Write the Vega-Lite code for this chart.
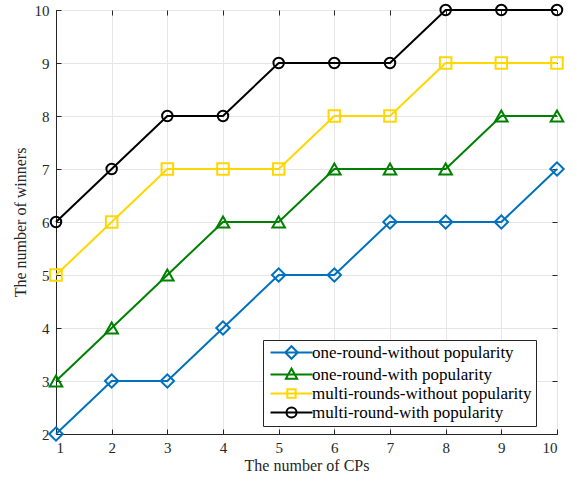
{
  "$schema": "https://vega.github.io/schema/vega-lite/v6.json",
  "width": 501,
  "height": 424,
  "autosize": {"type": "none"},
  "padding": {"left": 56, "top": 10, "right": 20, "bottom": 49},
  "background": "white",
  "config": {
    "view": {"stroke": "#262626", "strokeWidth": 1},
    "font": "Liberation Serif",
    "axis": {
      "labelFont": "Liberation Serif",
      "titleFont": "Liberation Serif",
      "labelFontSize": 15,
      "titleFontSize": 16,
      "labelColor": "#262626",
      "titleColor": "#262626",
      "titleFontWeight": "normal",
      "domainColor": "#262626",
      "tickColor": "#262626",
      "gridColor": "#e6e6e6",
      "gridOpacity": 1
    }
  },
  "data": {
    "values": [
      {"x": 1, "y": 2, "s": "one-round-without popularity"},
      {"x": 2, "y": 3, "s": "one-round-without popularity"},
      {"x": 3, "y": 3, "s": "one-round-without popularity"},
      {"x": 4, "y": 4, "s": "one-round-without popularity"},
      {"x": 5, "y": 5, "s": "one-round-without popularity"},
      {"x": 6, "y": 5, "s": "one-round-without popularity"},
      {"x": 7, "y": 6, "s": "one-round-without popularity"},
      {"x": 8, "y": 6, "s": "one-round-without popularity"},
      {"x": 9, "y": 6, "s": "one-round-without popularity"},
      {"x": 10, "y": 7, "s": "one-round-without popularity"},
      {"x": 1, "y": 3, "s": "one-round-with popularity"},
      {"x": 2, "y": 4, "s": "one-round-with popularity"},
      {"x": 3, "y": 5, "s": "one-round-with popularity"},
      {"x": 4, "y": 6, "s": "one-round-with popularity"},
      {"x": 5, "y": 6, "s": "one-round-with popularity"},
      {"x": 6, "y": 7, "s": "one-round-with popularity"},
      {"x": 7, "y": 7, "s": "one-round-with popularity"},
      {"x": 8, "y": 7, "s": "one-round-with popularity"},
      {"x": 9, "y": 8, "s": "one-round-with popularity"},
      {"x": 10, "y": 8, "s": "one-round-with popularity"},
      {"x": 1, "y": 5, "s": "multi-rounds-without popularity"},
      {"x": 2, "y": 6, "s": "multi-rounds-without popularity"},
      {"x": 3, "y": 7, "s": "multi-rounds-without popularity"},
      {"x": 4, "y": 7, "s": "multi-rounds-without popularity"},
      {"x": 5, "y": 7, "s": "multi-rounds-without popularity"},
      {"x": 6, "y": 8, "s": "multi-rounds-without popularity"},
      {"x": 7, "y": 8, "s": "multi-rounds-without popularity"},
      {"x": 8, "y": 9, "s": "multi-rounds-without popularity"},
      {"x": 9, "y": 9, "s": "multi-rounds-without popularity"},
      {"x": 10, "y": 9, "s": "multi-rounds-without popularity"},
      {"x": 1, "y": 6, "s": "multi-round-with popularity"},
      {"x": 2, "y": 7, "s": "multi-round-with popularity"},
      {"x": 3, "y": 8, "s": "multi-round-with popularity"},
      {"x": 4, "y": 8, "s": "multi-round-with popularity"},
      {"x": 5, "y": 9, "s": "multi-round-with popularity"},
      {"x": 6, "y": 9, "s": "multi-round-with popularity"},
      {"x": 7, "y": 9, "s": "multi-round-with popularity"},
      {"x": 8, "y": 10, "s": "multi-round-with popularity"},
      {"x": 9, "y": 10, "s": "multi-round-with popularity"},
      {"x": 10, "y": 10, "s": "multi-round-with popularity"}
    ]
  },
  "layer": [
    {
      "mark": {"type": "line", "strokeWidth": 2},
      "encoding": {
        "x": {"field": "x", "type": "quantitative", "scale": {"domain": [1, 10], "nice": false},
              "axis": {"title": "The number of CPs", "values": [1,2,3,4,5,6,7,8,9,10], "format": "d", "tickSize": -5, "labelPadding": 11, "titlePadding": 2, "grid": true}},
        "y": {"field": "y", "type": "quantitative", "scale": {"domain": [2, 10], "nice": false},
              "axis": {"title": "The number of winners", "values": [2,3,4,5,6,7,8,9,10], "format": "d", "tickSize": -5, "labelPadding": 12, "titlePadding": 6, "grid": true}},
        "color": {"field": "s", "type": "nominal", "legend": null,
                  "scale": {"domain": ["one-round-without popularity", "one-round-with popularity", "multi-rounds-without popularity", "multi-round-with popularity"],
                            "range": ["#0072BD", "#008000", "#FFD700", "#000000"]}},
        "detail": {"field": "s"}
      }
    },
    {
      "mark": {"type": "point", "filled": false, "strokeWidth": 2, "opacity": 1},
      "encoding": {
        "x": {"field": "x", "type": "quantitative", "axis": null},
        "y": {"field": "y", "type": "quantitative", "axis": null},
        "color": {"field": "s", "type": "nominal", "legend": null,
                  "scale": {"domain": ["one-round-without popularity", "one-round-with popularity", "multi-rounds-without popularity", "multi-round-with popularity"],
                            "range": ["#0072BD", "#008000", "#FFD700", "#000000"]}},
        "shape": {"field": "s", "type": "nominal", "legend": null,
                  "scale": {"domain": ["one-round-without popularity", "one-round-with popularity", "multi-rounds-without popularity", "multi-round-with popularity"],
                            "range": ["diamond", "triangle-up", "square", "circle"]}},
        "size": {"field": "s", "type": "nominal", "legend": null,
                 "scale": {"domain": ["one-round-without popularity", "one-round-with popularity", "multi-rounds-without popularity", "multi-round-with popularity"],
                           "range": [180, 110, 90, 120]}}
      }
    },
    {
      "transform": [{"filter": "datum.y > 100"}],
      "mark": {"type": "point", "filled": false, "strokeWidth": 2},
      "encoding": {
        "x": {"field": "x", "type": "quantitative",
              "axis": {"orient": "top", "values": [1,2,3,4,5,6,7,8,9,10], "labels": false, "title": null, "grid": false, "domain": false, "tickSize": -5}},
        "y": {"field": "y", "type": "quantitative",
              "axis": {"orient": "right", "values": [2,3,4,5,6,7,8,9,10], "labels": false, "title": null, "grid": false, "domain": false, "tickSize": -5}},
        "color": {"field": "s", "type": "nominal",
                  "scale": {"domain": ["one-round-without popularity", "one-round-with popularity", "multi-rounds-without popularity", "multi-round-with popularity"],
                            "range": ["#0072BD", "#008000", "#FFD700", "#000000"]},
                  "legend": {"title": null, "orient": "none", "legendX": 207, "legendY": 330,
                             "strokeColor": "#262626", "fillColor": "white", "padding": 4,
                             "labelFont": "Liberation Serif", "labelFontSize": 17, "labelColor": "#000000",
                             "symbolSize": 196, "symbolStrokeWidth": 2, "symbolOpacity": 1, "symbolOffset": 16,
                             "rowPadding": 1, "labelOffset": 12, "labelLimit": 400}},
        "shape": {"field": "s", "type": "nominal",
                  "scale": {"domain": ["one-round-without popularity", "one-round-with popularity", "multi-rounds-without popularity", "multi-round-with popularity"],
                            "range": [
                              "M-3,0H3M0,-0.9L0.9,0L0,0.9L-0.9,0Z",
                              "M-3,0H3M0,-0.85L0.8,0.6L-0.8,0.6Z",
                              "M-3,0H3M-0.6,-0.6H0.6V0.6H-0.6Z",
                              "M-3,0H3M0.72,0A0.72,0.72 0 1,1 -0.72,0A0.72,0.72 0 1,1 0.72,0"
                            ]},
                  "legend": {"title": null, "orient": "none", "legendX": 207, "legendY": 330,
                             "strokeColor": "#262626", "fillColor": "white", "padding": 4,
                             "labelFont": "Liberation Serif", "labelFontSize": 17, "labelColor": "#000000",
                             "symbolSize": 196, "symbolStrokeWidth": 2, "symbolOpacity": 1, "symbolOffset": 16,
                             "rowPadding": 1, "labelOffset": 12, "labelLimit": 400}}
      }
    }
  ],
  "resolve": {"scale": {"color": "independent", "shape": "independent"}, "axis": {"x": "independent", "y": "independent"}}
}
